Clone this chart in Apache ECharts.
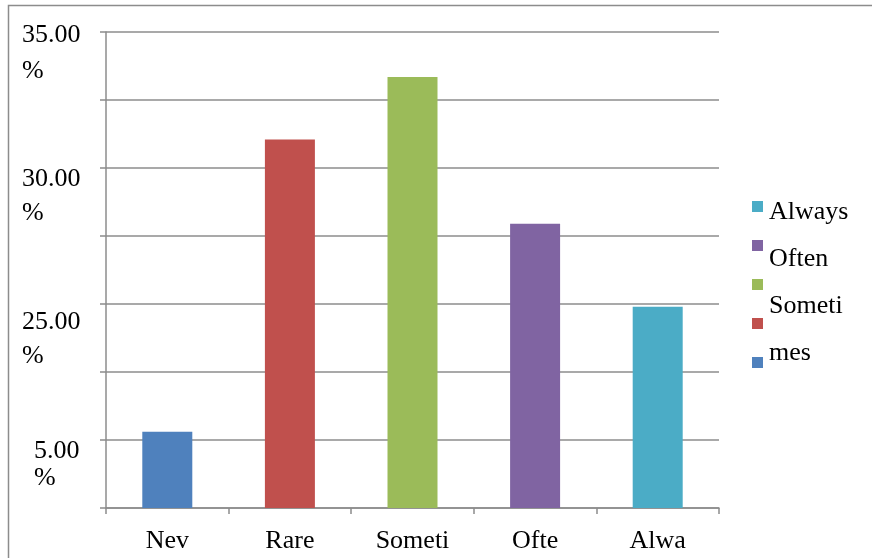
<!DOCTYPE html>
<html>
<head>
<meta charset="utf-8">
<title>Responses</title>
<script src="https://cdn.jsdelivr.net/npm/echarts@6/dist/echarts.min.js"></script>
<style>
  html, body { margin: 0; padding: 0; background: #ffffff; }
  #chart { width: 872px; height: 558px; }
</style>
</head>
<body>
<div id="chart"></div>
<script>
// Category labels printed under the bars
const categories = ['Nev', 'Rare', 'Someti', 'Ofte', 'Alwa'];
// One series per response, in category order (percent of respondents)
const seriesNames = ['Never', 'Rarely', 'Sometimes', 'Often', 'Always'];
const shares = [5.6, 27.1, 31.7, 20.9, 14.8];
// Value-axis ticks that carry a printed label, and their text lines
const yTickValues = [35, 25, 15, 5];
const yTickLines = [['35.00', '%'], ['30.00', '%'], ['25.00', '%'], ['5.00', '%']];
// Legend: order of the swatches, and the entries that carry text
const legendOrder = ['Always', 'Often', 'Sometimes', 'Rarely', 'Never'];
const legendTextItems = ['Always', 'Often', 'Sometimes'];
const legendTexts = { Always: 'Always', Often: 'Often', Sometimes: 'Someti\nmes' };

const seriesColors = ['#4f81bd', '#c0504d', '#9bbb59', '#8064a2', '#4bacc6'];
const FONT = '"Liberation Serif", "DejaVu Serif", serif';
const GRAY = '#8c8c8c';

// Per-label line placement for the value-axis labels (top-anchored text)
const yLabelLayout = [
  { first: 6,  second: 66, indent: 0 },
  { first: 22, second: 46, indent: 0 },
  { first: 36, second: 32, indent: 0 },
  { first: 22, second: 32, indent: 12 }
];
const yRich = {};
yLabelLayout.forEach(function (l, i) {
  yRich['h' + i] = { lineHeight: l.first, padding: [0, 0, 0, l.indent], fontFamily: FONT, fontSize: 26, color: '#000' };
  yRich['p' + i] = { lineHeight: l.second, padding: [0, 0, 0, l.indent], fontFamily: FONT, fontSize: 26, color: '#000' };
});

const chart = echarts.init(document.getElementById('chart'), null, { renderer: 'canvas' });

const series = seriesNames.map(function (name, i) {
  return {
    name: name,
    type: 'bar',
    barWidth: 50,
    barGap: '-100%',
    itemStyle: { color: seriesColors[i] },
    emphasis: { disabled: true },
    data: categories.map(function (c, j) { return j === i ? shares[i] : '-'; })
  };
});

chart.setOption({
  animation: false,
  backgroundColor: '#ffffff',
  graphic: [{
    type: 'rect',
    shape: { x: 8.5, y: 5.5, width: 900, height: 600 },
    style: { fill: 'none', stroke: GRAY, lineWidth: 1.5 },
    silent: true
  }],
  grid: { left: 106, right: 153, top: 32, bottom: 50, containLabel: false, outerBoundsMode: 'none' },
  legend: [{
    data: legendOrder.map(function (n) { return { name: n, icon: 'rect' }; }),
    orient: 'vertical',
    left: 752,
    top: 201,
    itemWidth: 11,
    itemHeight: 11,
    itemGap: 28,
    padding: 0,
    selectedMode: false,
    formatter: function () { return ''; },
    textStyle: { fontSize: 1, lineHeight: 11 }
  }, {
    data: legendTextItems,
    orient: 'vertical',
    left: 753,
    top: 189,
    icon: 'none',
    itemWidth: 11,
    itemHeight: 11,
    itemGap: 0,
    padding: 0,
    selectedMode: false,
    formatter: function (n) { return legendTexts[n]; },
    textStyle: { fontFamily: FONT, fontSize: 26, lineHeight: 47, color: '#000' }
  }],
  xAxis: {
    type: 'category',
    data: categories,
    boundaryGap: true,
    axisLine: { show: true, lineStyle: { color: GRAY, width: 1.5 } },
    axisTick: { show: true, length: 6, alignWithLabel: false, lineStyle: { color: GRAY, width: 1.5 } },
    axisLabel: { fontFamily: FONT, fontSize: 26, lineHeight: 26, color: '#000', margin: 20, interval: 0 },
    splitLine: { show: false }
  },
  yAxis: {
    type: 'value',
    min: 0,
    max: 35,
    interval: 5,
    axisLine: { show: true, lineStyle: { color: GRAY, width: 1.5 } },
    axisTick: { show: true, length: 6, lineStyle: { color: GRAY, width: 1.5 } },
    splitLine: { show: true, lineStyle: { color: GRAY, width: 1.5 } },
    axisLabel: {
      align: 'left',
      verticalAlign: 'top',
      margin: 84,
      showMinLabel: true,
      showMaxLabel: true,
      formatter: function (v) {
        const i = yTickValues.indexOf(v);
        if (i < 0) return '';
        return '{h' + i + '|' + yTickLines[i][0] + '}\n{p' + i + '|' + yTickLines[i][1] + '}';
      },
      rich: yRich
    }
  },
  series: series
});
</script>
</body>
</html>
